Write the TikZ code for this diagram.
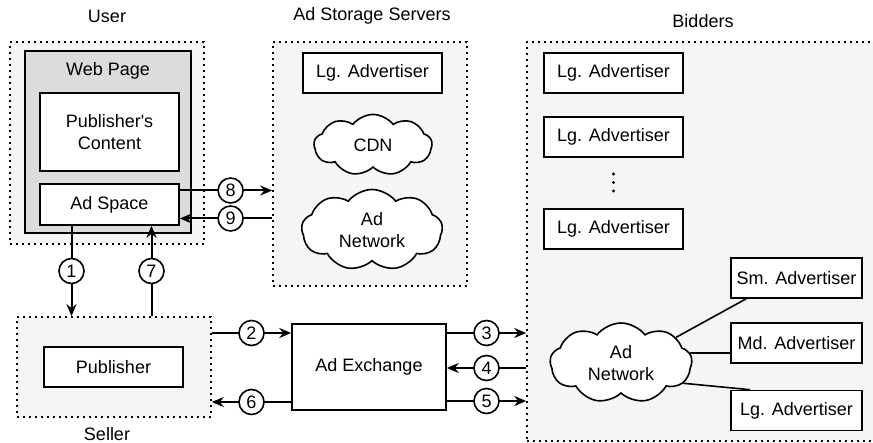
\documentclass[tikz,border=0pt]{standalone}
\usepackage{fontspec}
\setmainfont{Liberation Sans}[Ligatures=TeXOff]
\usetikzlibrary{arrows.meta,shapes.symbols}
\definecolor{groupfill}{HTML}{F5F5F5}
\definecolor{pagefill}{HTML}{DCDCDC}

\begin{document}
\begin{tikzpicture}[x=1pt, y=-1pt,
    every node/.style={font=\fontsize{18}{22}\selectfont},
    group/.style={draw, line width=1.6pt, dash pattern=on 2pt off 4pt, fill=groupfill, inner sep=0pt},
    box/.style={draw, line width=1.6pt, fill=white, minimum width=139pt, minimum height=40pt, inner sep=0pt, align=center},
    cloudy/.style={cloud, cloud puffs=9, cloud puff arc=105, draw, line width=1.6pt, fill=white, align=center, inner sep=0pt},
    num/.style={circle, draw, line width=1.6pt, fill=white, minimum size=25pt, inner sep=0pt},
    flow/.style={line width=2pt, -{Stealth[length=12pt, width=10pt, inset=4pt]}},
    link/.style={line width=1.6pt}]
    \useasboundingbox (0,0) rectangle (873,443);

    \node[group, minimum width=194pt, minimum height=202pt] (user) at (107,143) {};
    \node[group, minimum width=194pt, minimum height=244pt] (storage) at (370,164) {};
    \node[group, minimum width=380pt, minimum height=399pt] (bidders) at (717,241.5) {};
    \node[group, minimum width=194pt, minimum height=100pt] (seller) at (114,367) {};

    \node (usertitle) at (107,16) {User};
    \node (storagetitle) at (372,16) {Ad Storage Servers};
    \node (bidderstitle) at (703,21) {Bidders};
    \node (sellertitle) at (107,434) {Seller};

    \node[draw, line width=1.6pt, fill=pagefill, minimum width=166pt, minimum height=182pt] (webpage) at (108,142) {};
    \node (pagetitle) at (108,71) {Web Page};
    \node[box, minimum height=78pt] (content) at (109.5,132) {Publisher's\\Content};
    \node[box, minimum height=41pt] (adspace) at (109.5,204.5) {Ad Space};

    \node[box] (storagelg) at (372.5,73) {Lg. Advertiser};
    \node[cloudy, minimum width=118pt, minimum height=60pt] (cdn) at (373,145) {CDN};
    \node[cloudy, minimum width=141pt, minimum height=81pt] (storagenet) at (372,230) {};
    \node[align=center] (storagenettext) at (storagenet) {Ad\\Network};

    \node[box] (bidlgone) at (613.5,73) {Lg. Advertiser};
    \node[box] (bidlgtwo) at (613.5,137) {Lg. Advertiser};
    \fill (613.5,174) circle (1.7pt) (613.5,182.5) circle (1.7pt) (613.5,191) circle (1.7pt);
    \node[box] (bidlgthree) at (613.5,229) {Lg. Advertiser};
    \node[cloudy, minimum width=142pt, minimum height=80pt] (bidnet) at (621,363) {};
    \node[align=center] (bidnettext) at (bidnet) {Ad\\Network};
    \node[box, minimum width=131pt] (netsm) at (796.5,278) {Sm. Advertiser};
    \node[box, minimum width=131pt] (netmd) at (796.5,343) {Md. Advertiser};
    \node[box, minimum width=131pt] (netlg) at (796.5,410.5) {Lg. Advertiser};

    \node[box] (publisher) at (113.5,367) {Publisher};
    \node[box, minimum width=154pt, minimum height=86pt] (adex) at (369,367) {Ad Exchange};

    \draw[link] (bidnet.25) -- ([xshift=16pt]netsm.south west);
    \draw[link] (bidnet.8) -- (bidnet.8 -| netmd.west);
    \draw[link] (bidnet.-18) -- ([xshift=20pt]netlg.north west);

    \draw[flow] ([yshift=14pt]adspace.east) -- node[num, pos=0.55]{8} ([yshift=14pt]adspace.east -| storage.west);
    \draw[flow] ([yshift=-14pt]adspace.east -| storage.west) -- node[num, pos=0.45]{9} ([yshift=-14pt]adspace.east);
    \draw[flow] ([xshift=-38pt]adspace.south) -- node[num]{1} ([xshift=-38pt]adspace.south |- seller.north);
    \draw[flow] ([xshift=42pt]adspace.south |- seller.north) -- node[num]{7} ([xshift=42pt]adspace.south);
    \draw[flow] ([yshift=34pt]seller.east) -- node[num]{2} ([yshift=34pt]seller.east -| adex.west);
    \draw[flow] ([yshift=-35pt]adex.west) -- node[num]{6} ([yshift=-35pt]adex.west -| seller.east);
    \draw[flow] ([yshift=34pt]adex.east) -- node[num]{3} ([yshift=34pt]adex.east -| bidders.west);
    \draw[flow] ([yshift=-1pt]adex.east -| bidders.west) -- node[num]{4} ([yshift=-1pt]adex.east);
    \draw[flow] ([yshift=-34pt]adex.east) -- node[num]{5} ([yshift=-34pt]adex.east -| bidders.west);
\end{tikzpicture}
\end{document}
